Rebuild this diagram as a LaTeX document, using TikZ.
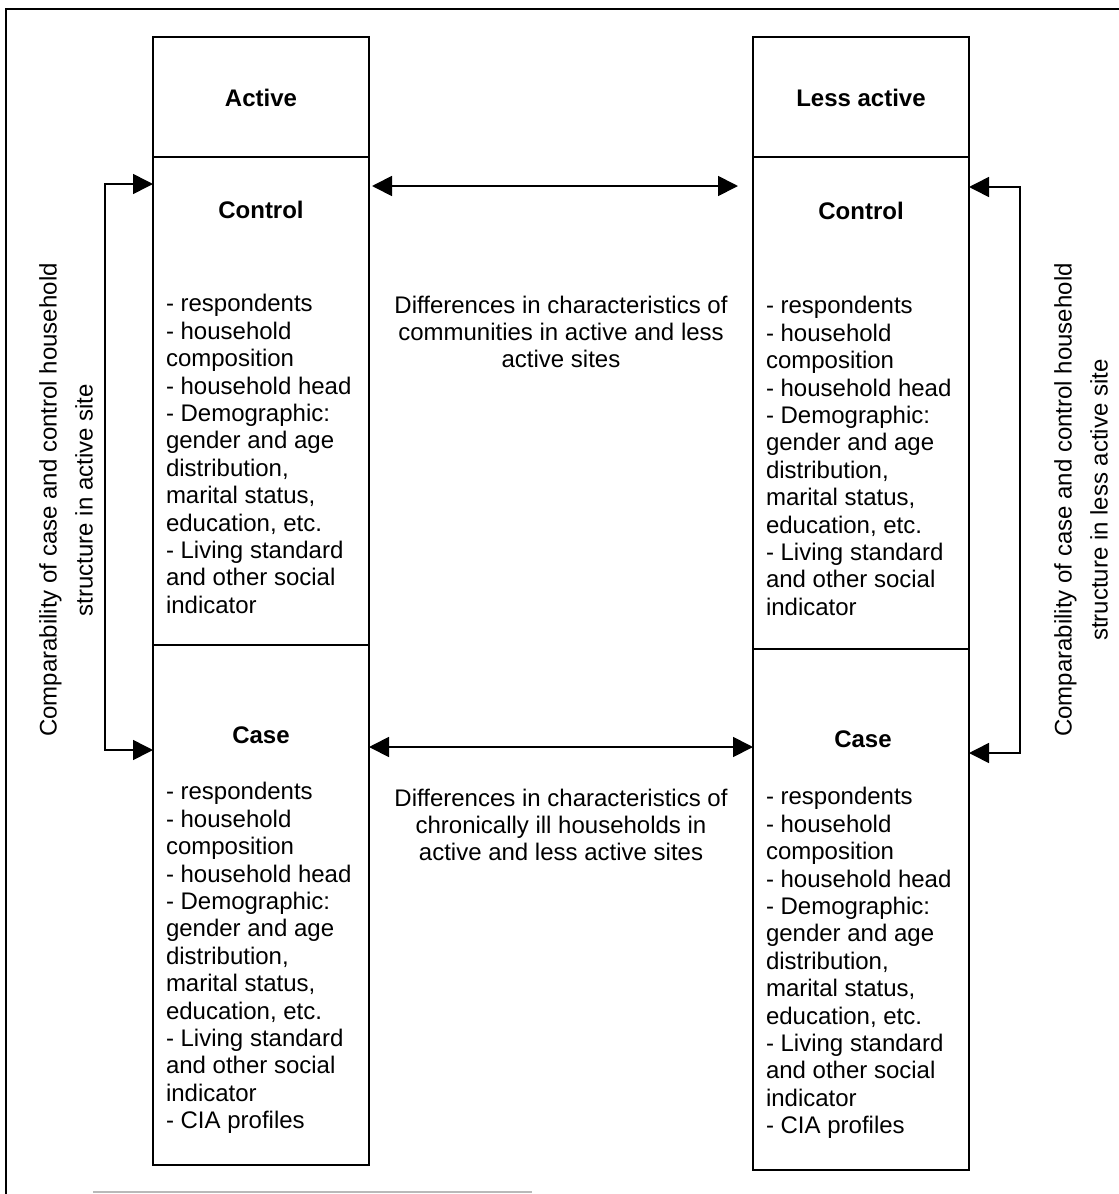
\documentclass[tikz,border=0pt]{standalone}
\usepackage{fontspec}
\setmainfont{Liberation Sans}
\usetikzlibrary{arrows.meta,calc}
\begin{document}
\begin{tikzpicture}[x=1pt,y=-1pt,
  every node/.style={inner sep=0pt,outer sep=0pt},
  txt/.style={font=\fontsize{24}{27.4}\selectfont},
  ttl/.style={font=\fontsize{24}{27.4}\selectfont\bfseries},
  sect/.style={draw,line width=1.8pt,anchor=north west},
  lst/.style={txt,align=left,anchor=west},
  mid/.style={txt,align=center},
  side/.style={font=\fontsize{24}{36}\selectfont,align=center,rotate=90},
  link/.style={line width=1.8pt,arrows={Triangle[length=20pt,width=20pt]-Triangle[length=20pt,width=20pt]}},
  bracket/.style={line width=1.6pt,arrows={Triangle[length=20pt,width=20pt]-Triangle[length=20pt,width=20pt]}}
]
\useasboundingbox (0,0) rectangle (1119,1194);
% frame
\draw[line width=2pt] (6,1194) -- (6,9) -- (1119,9);
\draw[gray!55,line width=2pt] (93,1192) -- (532,1192);

% left column
\node[sect,minimum width=216,minimum height=120] (headL) at (153,37) {};
\node[ttl] (headLt) at (261,98) {Active};
\node[sect,minimum width=216,minimum height=488] (ctrlL) at (153,157) {};
\node[sect,minimum width=216,minimum height=520] (caseL) at (153,645) {};
% right column
\node[sect,minimum width=216,minimum height=120] (headR) at (753,37) {};
\node[ttl] (headRt) at (861,98) {Less active};
\node[sect,minimum width=216,minimum height=492] (ctrlR) at (753,157) {};
\node[sect,minimum width=216,minimum height=521] (caseR) at (753,649) {};

\node[ttl] (ctrlLt) at (261,210) {Control};
\node[ttl] (ctrlRt) at (861,211) {Control};
\node[ttl] (caseLt) at (261,735) {Case};
\node[ttl] (caseRt) at (863,739) {Case};

\node[lst] (ctrlLl) at (166,454) {- respondents\\- household\\composition\\- household head\\- Demographic:\\gender and age\\distribution,\\marital status,\\education, etc.\\- Living standard\\and other social\\indicator};
\node[lst] (ctrlRl) at (766,456) {- respondents\\- household\\composition\\- household head\\- Demographic:\\gender and age\\distribution,\\marital status,\\education, etc.\\- Living standard\\and other social\\indicator};
\node[lst] (caseLl) at (166,958) {- respondents\\- household\\composition\\- household head\\- Demographic:\\gender and age\\distribution,\\marital status,\\education, etc.\\- Living standard\\and other social\\indicator\\- CIA profiles};
\node[lst] (caseRl) at (766,963) {- respondents\\- household\\composition\\- household head\\- Demographic:\\gender and age\\distribution,\\marital status,\\education, etc.\\- Living standard\\and other social\\indicator\\- CIA profiles};

\node[mid] (midTop) at (561,332) {Differences in characteristics of\\communities in active and less\\active sites};
\node[mid] (midBot) at (561,825) {Differences in characteristics of\\chronically ill households in\\active and less active sites};

\node[side] (sideL) at (66,500) {Comparability of case and control household\\structure in active site};
\node[side] (sideR) at (1081,500) {Comparability of case and control household\\structure in less active site};

% horizontal links
\coordinate (tA) at (0,186);
\coordinate (bA) at (0,747);
\draw[link,shorten <=3pt,shorten >=15pt] (ctrlL.east |- tA) -- (ctrlR.west |- tA);
\draw[link] (caseL.east |- bA) -- (caseR.west |- bA);

% brackets
\coordinate (lb1) at (105,184);
\coordinate (lb2) at (105,750);
\draw[bracket] (ctrlL.west |- lb1) -- (lb1) -- (lb2) -- (caseL.west |- lb2);
\coordinate (rb1) at (1020,187);
\coordinate (rb2) at (1020,753);
\draw[bracket] (ctrlR.east |- rb1) -- (rb1) -- (rb2) -- (caseR.east |- rb2);
\end{tikzpicture}
\end{document}
